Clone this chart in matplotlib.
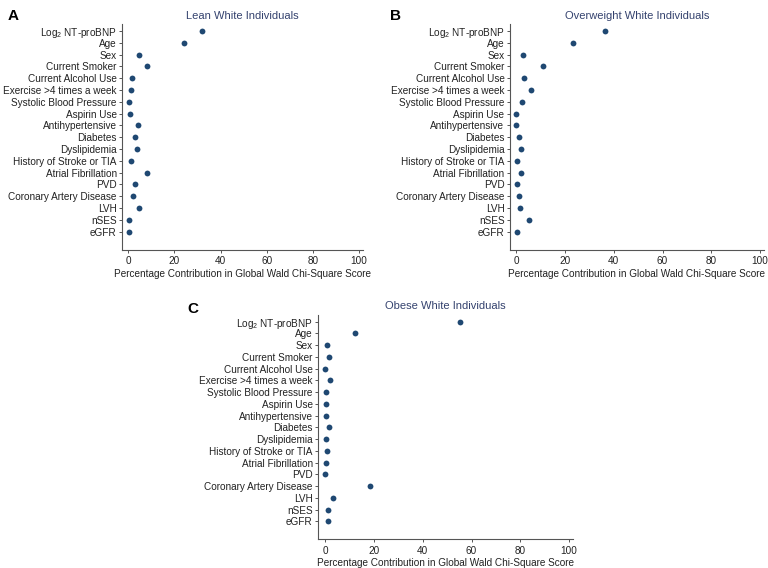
import matplotlib
matplotlib.use("Agg")
import matplotlib.pyplot as plt

plt.rcParams["font.family"] = ["Liberation Sans", "DejaVu Sans"]
plt.rcParams["mathtext.fontset"] = "custom"
plt.rcParams["mathtext.rm"] = "Liberation Sans"
plt.rcParams["mathtext.it"] = "Liberation Sans"

# Predictors, top to bottom
predictors = [
    "Log$_2$ NT-proBNP", "Age", "Sex", "Current Smoker", "Current Alcohol Use",
    "Exercise >4 times a week", "Systolic Blood Pressure", "Aspirin Use",
    "Antihypertensive", "Diabetes", "Dyslipidemia", "History of Stroke or TIA",
    "Atrial Fibrillation", "PVD", "Coronary Artery Disease", "LVH", "nSES", "eGFR",
]

# Percentage contribution in global Wald chi-square score
lean = [31.8, 24.3, 4.8, 8.0, 1.4, 1.0, 0.3, 0.6, 4.3, 2.8, 3.9, 1.0, 8.2, 2.9, 2.0, 4.6, 0.1, 0.1]
overweight = [36.5, 23.4, 2.9, 10.9, 3.0, 5.9, 2.5, 0.0, 0.0, 1.0, 1.8, 0.4, 1.8, 0.4, 1.0, 1.4, 5.3, 0.4]
obese = [55.3, 12.0, 0.5, 1.5, 0.0, 1.8, 0.1, 0.1, 0.4, 1.5, 0.3, 0.5, 0.1, 0.0, 18.4, 3.0, 1.2, 1.2]

xticks = [0, 20, 40, 60, 80, 100]
xlabel = "Percentage Contribution in Global Wald Chi-Square Score"

W, H = 768, 568
fig = plt.figure(figsize=(W / 100, H / 100), dpi=100)

dot_color = "#1f4872"
title_color = "#34426e"
axis_color = "#555555"


def px_axes(left, right, top, bottom):
    return fig.add_axes([left / W, 1 - bottom / H, (right - left) / W, (bottom - top) / H])


def panel(ax, values, title, xmin, xmax, letter, lx, ly):
    ypos = list(range(len(predictors)))
    ax.plot(values, ypos, "o", color=dot_color, ms=4.2, mec="none")
    ax.set_ylim(len(predictors) - 1 + 1.53, -0.57)
    ax.set_xlim(xmin, xmax)
    ax.set_yticks(ypos)
    ax.set_yticklabels(predictors, fontsize=7.2, color="#222222")
    ax.set_xticks(xticks)
    ax.set_xticklabels([str(t) for t in xticks], fontsize=7.2, color="#222222")
    ax.set_xlabel(xlabel, fontsize=7.2, color="#222222", labelpad=2)
    ax.set_title(title, fontsize=8, color=title_color, pad=4)
    for s in ["top", "right"]:
        ax.spines[s].set_visible(False)
    for s in ["left", "bottom"]:
        ax.spines[s].set_color(axis_color)
        ax.spines[s].set_linewidth(0.8)
    ax.tick_params(axis="both", length=2.5, width=0.7, color=axis_color, pad=1.5)
    ax.tick_params(axis="x", pad=2)
    fig.text(lx / W, 1 - ly / H, letter, fontsize=11, fontweight="bold", ha="left", va="center")


axA = px_axes(122.3, 362.7, 24.3, 249.7)
panel(axA, lean, "Lean White Individuals", -2.6, 101.6, "A", 8, 16)

axB = px_axes(510, 764, 24.3, 249.7)
panel(axB, overweight, "Overweight White Individuals", -2.6, 101.6, "B", 390, 16)

axC = px_axes(318.3, 573, 315, 539.3)
panel(axC, obese, "Obese White Individuals", -2.9, 101.6, "C", 187, 309)

fig.savefig("out.png", dpi=100)
